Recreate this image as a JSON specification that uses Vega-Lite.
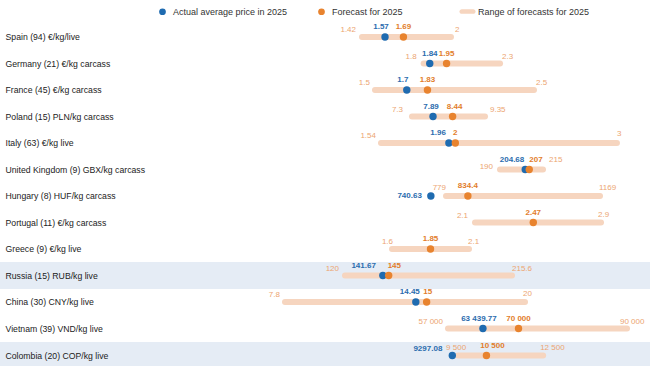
{
"$schema": "https://vega.github.io/schema/vega-lite/v6.json",
"autosize": "pad",
"padding": {"left": 0, "top": 7, "right": 0, "bottom": 0},
"background": "white",
"bounds": "flush",
"spacing": 0,
"datasets": {"prices": [
{"id":"ES","country":"Spain (94)  €/kg/live","actual":1.57,"actual_label":"1.57","forecast":1.69,"forecast_label":"1.69","low":1.42,"low_label":"1.42","high":2,"high_label":"2"},
{"id":"DE","country":"Germany (21) €/kg carcass","actual":1.84,"actual_label":"1.84","forecast":1.95,"forecast_label":"1.95","low":1.8,"low_label":"1.8","high":2.3,"high_label":"2.3"},
{"id":"FR","country":"France (45) €/kg carcass","actual":1.7,"actual_label":"1.7","forecast":1.83,"forecast_label":"1.83","low":1.5,"low_label":"1.5","high":2.5,"high_label":"2.5"},
{"id":"PL","country":"Poland (15) PLN/kg carcass","actual":7.89,"actual_label":"7.89","forecast":8.44,"forecast_label":"8.44","low":7.3,"low_label":"7.3","high":9.35,"high_label":"9.35"},
{"id":"IT","country":"Italy (63) €/kg live","actual":1.96,"actual_label":"1.96","forecast":2,"forecast_label":"2","low":1.54,"low_label":"1.54","high":3,"high_label":"3"},
{"id":"UK","country":"United Kingdom (9) GBX/kg carcass","actual":204.68,"actual_label":"204.68","forecast":207,"forecast_label":"207","low":190,"low_label":"190","high":215,"high_label":"215"},
{"id":"HU","country":"Hungary (8) HUF/kg carcass","actual":740.63,"actual_label":"740.63","forecast":834.4,"forecast_label":"834.4","low":779,"low_label":"779","high":1169,"high_label":"1169"},
{"id":"PT","country":"Portugal (11) €/kg carcass","actual":null,"actual_label":null,"forecast":2.47,"forecast_label":"2.47","low":2.1,"low_label":"2.1","high":2.9,"high_label":"2.9"},
{"id":"GR","country":"Greece (9) €/kg live","actual":null,"actual_label":null,"forecast":1.85,"forecast_label":"1.85","low":1.6,"low_label":"1.6","high":2.1,"high_label":"2.1"},
{"id":"RU","country":"Russia (15) RUB/kg live","actual":141.67,"actual_label":"141.67","forecast":145,"forecast_label":"145","low":120,"low_label":"120","high":215.6,"high_label":"215.6"},
{"id":"CN","country":"China (30) CNY/kg live","actual":14.45,"actual_label":"14.45","forecast":15,"forecast_label":"15","low":7.8,"low_label":"7.8","high":20,"high_label":"20"},
{"id":"VN","country":"Vietnam (39) VND/kg live","actual":63439.77,"actual_label":"63 439.77","forecast":70000,"forecast_label":"70 000","low":57000,"low_label":"57 000","high":90000,"high_label":"90 000"},
{"id":"CO","country":"Colombia (20) COP/kg live","actual":9297.08,"actual_label":"9297.08","forecast":10500,"forecast_label":"10 500","low":9500,"low_label":"9 500","high":12500,"high_label":"12 500"}
]},
"data": {"name": "prices"},
"vconcat": [
{"height":26,"width":650,"transform":[{"filter":"datum.id==='ES'"}],"encoding":{"y":{"field":"country","type":"nominal","title":null}},"layer":[
{"mark":{"type":"rule","strokeWidth":6,"strokeCap":"round"},"encoding":{"x":{"field":"low","type":"quantitative","scale":{"domain":[-0.9399,3.2974],"nice":false,"zero":false},"axis":null},"x2":{"field":"high"},"stroke":{"datum":"Range of forecasts for 2025","scale":{"domain":["Range of forecasts for 2025"],"range":["#f6d5bf"]},"legend":{"title":null,"orient":"none","legendX":463,"legendY":-17,"symbolType":"M-1.7,-0.7L1.7,-0.7A0.7,0.7 0 0 1 1.7,0.7L-1.7,0.7A0.7,0.7 0 0 1 -1.7,-0.7Z","encode":{"symbols":{"update":{"fill":{"value":"#f6d5bf"},"strokeWidth":{"value":0},"opacity":{"value":1}}}}}}}},
{"mark":{"type":"text","align":"right","dx":-6,"dy":-7,"color":"#eca571"},"encoding":{"x":{"field":"low","type":"quantitative","scale":{"domain":[-0.9399,3.2974],"nice":false,"zero":false},"axis":null},"text":{"field":"low_label"}}},
{"mark":{"type":"text","align":"left","dx":4,"dy":-7,"color":"#eca571"},"encoding":{"x":{"field":"high","type":"quantitative","scale":{"domain":[-0.9399,3.2974],"nice":false,"zero":false},"axis":null},"text":{"field":"high_label"}}},
{"mark":{"type":"point","filled":true,"size":55,"opacity":1},"encoding":{"x":{"field":"actual","type":"quantitative","scale":{"domain":[-0.9399,3.2974],"nice":false,"zero":false},"axis":null},"color":{"datum":"Actual average price in 2025","scale":{"domain":["Actual average price in 2025","Forecast for 2025"],"range":["#1f6bb0","#e8832e"]},"legend":{"title":null,"orient":"none","legendX":158,"legendY":-17,"symbolType":"circle","encode":{"symbols":{"update":{"strokeWidth":{"value":0},"opacity":{"value":1}}}}}}}},
{"mark":{"type":"point","filled":true,"size":55,"opacity":1},"encoding":{"x":{"field":"forecast","type":"quantitative","scale":{"domain":[-0.9399,3.2974],"nice":false,"zero":false},"axis":null},"color":{"datum":"Forecast for 2025"}}},
{"mark":{"type":"text","fontWeight":"bold","dy":-10,"dx":-4,"color":"#2b6cae"},"encoding":{"x":{"field":"actual","type":"quantitative","scale":{"domain":[-0.9399,3.2974],"nice":false,"zero":false},"axis":null},"text":{"field":"actual_label"}}},
{"mark":{"type":"text","fontWeight":"bold","dy":-10,"color":"#e27d2b"},"encoding":{"x":{"field":"forecast","type":"quantitative","scale":{"domain":[-0.9399,3.2974],"nice":false,"zero":false},"axis":null},"text":{"field":"forecast_label"}}}
]},
{"height":27,"width":650,"transform":[{"filter":"datum.id==='DE'"}],"encoding":{"y":{"field":"country","type":"nominal","title":null}},"layer":[
{"mark":{"type":"rule","strokeWidth":6,"strokeCap":"round"},"encoding":{"x":{"field":"low","type":"quantitative","scale":{"domain":[-0.9725,3.2814],"nice":false,"zero":false},"axis":null},"x2":{"field":"high"},"stroke":{"datum":"Range of forecasts for 2025"}}},
{"mark":{"type":"text","align":"right","dx":-7,"dy":-7,"color":"#eca571"},"encoding":{"x":{"field":"low","type":"quantitative","scale":{"domain":[-0.9725,3.2814],"nice":false,"zero":false},"axis":null},"text":{"field":"low_label"}}},
{"mark":{"type":"text","align":"left","dx":2,"dy":-7,"color":"#eca571"},"encoding":{"x":{"field":"high","type":"quantitative","scale":{"domain":[-0.9725,3.2814],"nice":false,"zero":false},"axis":null},"text":{"field":"high_label"}}},
{"mark":{"type":"point","filled":true,"size":55,"opacity":1},"encoding":{"x":{"field":"actual","type":"quantitative","scale":{"domain":[-0.9725,3.2814],"nice":false,"zero":false},"axis":null},"color":{"datum":"Actual average price in 2025"}}},
{"mark":{"type":"point","filled":true,"size":55,"opacity":1},"encoding":{"x":{"field":"forecast","type":"quantitative","scale":{"domain":[-0.9725,3.2814],"nice":false,"zero":false},"axis":null},"color":{"datum":"Forecast for 2025"}}},
{"mark":{"type":"text","fontWeight":"bold","dy":-10,"color":"#2b6cae"},"encoding":{"x":{"field":"actual","type":"quantitative","scale":{"domain":[-0.9725,3.2814],"nice":false,"zero":false},"axis":null},"text":{"field":"actual_label"}}},
{"mark":{"type":"text","fontWeight":"bold","dy":-10,"color":"#e27d2b"},"encoding":{"x":{"field":"forecast","type":"quantitative","scale":{"domain":[-0.9725,3.2814],"nice":false,"zero":false},"axis":null},"text":{"field":"forecast_label"}}}
]},
{"height":26,"width":650,"transform":[{"filter":"datum.id==='FR'"}],"encoding":{"y":{"field":"country","type":"nominal","title":null}},"layer":[
{"mark":{"type":"rule","strokeWidth":6,"strokeCap":"round"},"encoding":{"x":{"field":"low","type":"quantitative","scale":{"domain":[-0.8585,3.2296],"nice":false,"zero":false},"axis":null},"x2":{"field":"high"},"stroke":{"datum":"Range of forecasts for 2025"}}},
{"mark":{"type":"text","align":"right","dx":-5,"dy":-7,"color":"#eca571"},"encoding":{"x":{"field":"low","type":"quantitative","scale":{"domain":[-0.8585,3.2296],"nice":false,"zero":false},"axis":null},"text":{"field":"low_label"}}},
{"mark":{"type":"text","align":"left","dx":2,"dy":-7,"color":"#eca571"},"encoding":{"x":{"field":"high","type":"quantitative","scale":{"domain":[-0.8585,3.2296],"nice":false,"zero":false},"axis":null},"text":{"field":"high_label"}}},
{"mark":{"type":"point","filled":true,"size":55,"opacity":1},"encoding":{"x":{"field":"actual","type":"quantitative","scale":{"domain":[-0.8585,3.2296],"nice":false,"zero":false},"axis":null},"color":{"datum":"Actual average price in 2025"}}},
{"mark":{"type":"point","filled":true,"size":55,"opacity":1},"encoding":{"x":{"field":"forecast","type":"quantitative","scale":{"domain":[-0.8585,3.2296],"nice":false,"zero":false},"axis":null},"color":{"datum":"Forecast for 2025"}}},
{"mark":{"type":"text","fontWeight":"bold","dy":-10,"dx":-4,"color":"#2b6cae"},"encoding":{"x":{"field":"actual","type":"quantitative","scale":{"domain":[-0.8585,3.2296],"nice":false,"zero":false},"axis":null},"text":{"field":"actual_label"}}},
{"mark":{"type":"text","fontWeight":"bold","dy":-10,"color":"#e27d2b"},"encoding":{"x":{"field":"forecast","type":"quantitative","scale":{"domain":[-0.8585,3.2296],"nice":false,"zero":false},"axis":null},"text":{"field":"forecast_label"}}}
]},
{"height":27,"width":650,"transform":[{"filter":"datum.id==='PL'"}],"encoding":{"y":{"field":"country","type":"nominal","title":null}},"layer":[
{"mark":{"type":"rule","strokeWidth":6,"strokeCap":"round"},"encoding":{"x":{"field":"low","type":"quantitative","scale":{"domain":[-4.2698,13.9835],"nice":false,"zero":false},"axis":null},"x2":{"field":"high"},"stroke":{"datum":"Range of forecasts for 2025"}}},
{"mark":{"type":"text","align":"right","dx":-9,"dy":-7,"color":"#eca571"},"encoding":{"x":{"field":"low","type":"quantitative","scale":{"domain":[-4.2698,13.9835],"nice":false,"zero":false},"axis":null},"text":{"field":"low_label"}}},
{"mark":{"type":"text","align":"left","dx":5,"dy":-7,"color":"#eca571"},"encoding":{"x":{"field":"high","type":"quantitative","scale":{"domain":[-4.2698,13.9835],"nice":false,"zero":false},"axis":null},"text":{"field":"high_label"}}},
{"mark":{"type":"point","filled":true,"size":55,"opacity":1},"encoding":{"x":{"field":"actual","type":"quantitative","scale":{"domain":[-4.2698,13.9835],"nice":false,"zero":false},"axis":null},"color":{"datum":"Actual average price in 2025"}}},
{"mark":{"type":"point","filled":true,"size":55,"opacity":1},"encoding":{"x":{"field":"forecast","type":"quantitative","scale":{"domain":[-4.2698,13.9835],"nice":false,"zero":false},"axis":null},"color":{"datum":"Forecast for 2025"}}},
{"mark":{"type":"text","fontWeight":"bold","dy":-10,"dx":-2,"color":"#2b6cae"},"encoding":{"x":{"field":"actual","type":"quantitative","scale":{"domain":[-4.2698,13.9835],"nice":false,"zero":false},"axis":null},"text":{"field":"actual_label"}}},
{"mark":{"type":"text","fontWeight":"bold","dy":-10,"dx":2,"color":"#e27d2b"},"encoding":{"x":{"field":"forecast","type":"quantitative","scale":{"domain":[-4.2698,13.9835],"nice":false,"zero":false},"axis":null},"text":{"field":"forecast_label"}}}
]},
{"height":26,"width":650,"transform":[{"filter":"datum.id==='IT'"}],"encoding":{"y":{"field":"country","type":"nominal","title":null}},"layer":[
{"mark":{"type":"rule","strokeWidth":6,"strokeCap":"round"},"encoding":{"x":{"field":"low","type":"quantitative","scale":{"domain":[-0.8177,3.2046],"nice":false,"zero":false},"axis":null},"x2":{"field":"high"},"stroke":{"datum":"Range of forecasts for 2025"}}},
{"mark":{"type":"text","align":"right","dx":-5,"dy":-7,"color":"#eca571"},"encoding":{"x":{"field":"low","type":"quantitative","scale":{"domain":[-0.8177,3.2046],"nice":false,"zero":false},"axis":null},"text":{"field":"low_label"}}},
{"mark":{"type":"text","align":"left","dx":0,"dy":-9,"color":"#eca571"},"encoding":{"x":{"field":"high","type":"quantitative","scale":{"domain":[-0.8177,3.2046],"nice":false,"zero":false},"axis":null},"text":{"field":"high_label"}}},
{"mark":{"type":"point","filled":true,"size":55,"opacity":1},"encoding":{"x":{"field":"actual","type":"quantitative","scale":{"domain":[-0.8177,3.2046],"nice":false,"zero":false},"axis":null},"color":{"datum":"Actual average price in 2025"}}},
{"mark":{"type":"point","filled":true,"size":55,"opacity":1},"encoding":{"x":{"field":"forecast","type":"quantitative","scale":{"domain":[-0.8177,3.2046],"nice":false,"zero":false},"axis":null},"color":{"datum":"Forecast for 2025"}}},
{"mark":{"type":"text","fontWeight":"bold","dy":-10,"dx":-3,"align":"right","color":"#2b6cae"},"encoding":{"x":{"field":"actual","type":"quantitative","scale":{"domain":[-0.8177,3.2046],"nice":false,"zero":false},"axis":null},"text":{"field":"actual_label"}}},
{"mark":{"type":"text","fontWeight":"bold","dy":-10,"color":"#e27d2b"},"encoding":{"x":{"field":"forecast","type":"quantitative","scale":{"domain":[-0.8177,3.2046],"nice":false,"zero":false},"axis":null},"text":{"field":"forecast_label"}}}
]},
{"height":27,"width":650,"transform":[{"filter":"datum.id==='UK'"}],"encoding":{"y":{"field":"country","type":"nominal","title":null}},"layer":[
{"mark":{"type":"rule","strokeWidth":6,"strokeCap":"round"},"encoding":{"x":{"field":"low","type":"quantitative","scale":{"domain":[-100.70,277.21],"nice":false,"zero":false},"axis":null},"x2":{"field":"high"},"stroke":{"datum":"Range of forecasts for 2025"}}},
{"mark":{"type":"text","align":"right","dx":-7,"dy":-3,"color":"#eca571"},"encoding":{"x":{"field":"low","type":"quantitative","scale":{"domain":[-100.70,277.21],"nice":false,"zero":false},"axis":null},"text":{"field":"low_label"}}},
{"mark":{"type":"text","align":"left","dx":6,"dy":-10,"color":"#eca571"},"encoding":{"x":{"field":"high","type":"quantitative","scale":{"domain":[-100.70,277.21],"nice":false,"zero":false},"axis":null},"text":{"field":"high_label"}}},
{"mark":{"type":"point","filled":true,"size":55,"opacity":1},"encoding":{"x":{"field":"actual","type":"quantitative","scale":{"domain":[-100.70,277.21],"nice":false,"zero":false},"axis":null},"color":{"datum":"Actual average price in 2025"}}},
{"mark":{"type":"point","filled":true,"size":55,"opacity":1},"encoding":{"x":{"field":"forecast","type":"quantitative","scale":{"domain":[-100.70,277.21],"nice":false,"zero":false},"axis":null},"color":{"datum":"Forecast for 2025"}}},
{"mark":{"type":"text","fontWeight":"bold","dy":-10,"dx":-1,"align":"right","color":"#2b6cae"},"encoding":{"x":{"field":"actual","type":"quantitative","scale":{"domain":[-100.70,277.21],"nice":false,"zero":false},"axis":null},"text":{"field":"actual_label"}}},
{"mark":{"type":"text","fontWeight":"bold","dy":-10,"align":"left","color":"#e27d2b"},"encoding":{"x":{"field":"forecast","type":"quantitative","scale":{"domain":[-100.70,277.21],"nice":false,"zero":false},"axis":null},"text":{"field":"forecast_label"}}}
]},
{"height":26,"width":650,"transform":[{"filter":"datum.id==='HU'"}],"encoding":{"y":{"field":"country","type":"nominal","title":null}},"layer":[
{"mark":{"type":"rule","strokeWidth":6,"strokeCap":"round"},"encoding":{"x":{"field":"low","type":"quantitative","scale":{"domain":[-350.5,1295.6],"nice":false,"zero":false},"axis":null},"x2":{"field":"high"},"stroke":{"datum":"Range of forecasts for 2025"}}},
{"mark":{"type":"text","align":"right","dx":0,"dy":-8,"color":"#eca571"},"encoding":{"x":{"field":"low","type":"quantitative","scale":{"domain":[-350.5,1295.6],"nice":false,"zero":false},"axis":null},"text":{"field":"low_label"}}},
{"mark":{"type":"text","align":"left","dx":-1,"dy":-8,"color":"#eca571"},"encoding":{"x":{"field":"high","type":"quantitative","scale":{"domain":[-350.5,1295.6],"nice":false,"zero":false},"axis":null},"text":{"field":"high_label"}}},
{"mark":{"type":"point","filled":true,"size":55,"opacity":1},"encoding":{"x":{"field":"actual","type":"quantitative","scale":{"domain":[-350.5,1295.6],"nice":false,"zero":false},"axis":null},"color":{"datum":"Actual average price in 2025"}}},
{"mark":{"type":"point","filled":true,"size":55,"opacity":1},"encoding":{"x":{"field":"forecast","type":"quantitative","scale":{"domain":[-350.5,1295.6],"nice":false,"zero":false},"axis":null},"color":{"datum":"Forecast for 2025"}}},
{"mark":{"type":"text","fontWeight":"bold","dy":0,"dx":-9,"align":"right","color":"#2b6cae"},"encoding":{"x":{"field":"actual","type":"quantitative","scale":{"domain":[-350.5,1295.6],"nice":false,"zero":false},"axis":null},"text":{"field":"actual_label"}}},
{"mark":{"type":"text","fontWeight":"bold","dy":-10,"color":"#e27d2b"},"encoding":{"x":{"field":"forecast","type":"quantitative","scale":{"domain":[-350.5,1295.6],"nice":false,"zero":false},"axis":null},"text":{"field":"forecast_label"}}}
]},
{"height":27,"width":650,"transform":[{"filter":"datum.id==='PT'"}],"encoding":{"y":{"field":"country","type":"nominal","title":null}},"layer":[
{"mark":{"type":"rule","strokeWidth":6,"strokeCap":"round"},"encoding":{"x":{"field":"low","type":"quantitative","scale":{"domain":[-0.9159,3.2111],"nice":false,"zero":false},"axis":null},"x2":{"field":"high"},"stroke":{"datum":"Range of forecasts for 2025"}}},
{"mark":{"type":"text","align":"right","dx":-7,"dy":-7,"color":"#eca571"},"encoding":{"x":{"field":"low","type":"quantitative","scale":{"domain":[-0.9159,3.2111],"nice":false,"zero":false},"axis":null},"text":{"field":"low_label"}}},
{"mark":{"type":"text","align":"left","dx":-3,"dy":-8,"color":"#eca571"},"encoding":{"x":{"field":"high","type":"quantitative","scale":{"domain":[-0.9159,3.2111],"nice":false,"zero":false},"axis":null},"text":{"field":"high_label"}}},
{"mark":{"type":"point","filled":true,"size":55,"opacity":1},"encoding":{"x":{"field":"forecast","type":"quantitative","scale":{"domain":[-0.9159,3.2111],"nice":false,"zero":false},"axis":null},"color":{"datum":"Forecast for 2025"}}},
{"mark":{"type":"text","fontWeight":"bold","dy":-10,"color":"#e27d2b"},"encoding":{"x":{"field":"forecast","type":"quantitative","scale":{"domain":[-0.9159,3.2111],"nice":false,"zero":false},"axis":null},"text":{"field":"forecast_label"}}}
]},
{"height":26,"width":650,"transform":[{"filter":"datum.id==='GR'"}],"encoding":{"y":{"field":"country","type":"nominal","title":null}},"layer":[
{"mark":{"type":"rule","strokeWidth":6,"strokeCap":"round"},"encoding":{"x":{"field":"low","type":"quantitative","scale":{"domain":[-0.9455,3.2753],"nice":false,"zero":false},"axis":null},"x2":{"field":"high"},"stroke":{"datum":"Range of forecasts for 2025"}}},
{"mark":{"type":"text","align":"right","dx":1,"dy":-7,"color":"#eca571"},"encoding":{"x":{"field":"low","type":"quantitative","scale":{"domain":[-0.9455,3.2753],"nice":false,"zero":false},"axis":null},"text":{"field":"low_label"}}},
{"mark":{"type":"text","align":"left","dx":-1,"dy":-7,"color":"#eca571"},"encoding":{"x":{"field":"high","type":"quantitative","scale":{"domain":[-0.9455,3.2753],"nice":false,"zero":false},"axis":null},"text":{"field":"high_label"}}},
{"mark":{"type":"point","filled":true,"size":55,"opacity":1},"encoding":{"x":{"field":"forecast","type":"quantitative","scale":{"domain":[-0.9455,3.2753],"nice":false,"zero":false},"axis":null},"color":{"datum":"Forecast for 2025"}}},
{"mark":{"type":"text","fontWeight":"bold","dy":-10,"color":"#e27d2b"},"encoding":{"x":{"field":"forecast","type":"quantitative","scale":{"domain":[-0.9455,3.2753],"nice":false,"zero":false},"axis":null},"text":{"field":"forecast_label"}}}
]},
{"height":27,"width":650,"view":{"fill":"#e5ecf5"},"transform":[{"filter":"datum.id==='RU'"}],"encoding":{"y":{"field":"country","type":"nominal","title":null}},"layer":[
{"mark":{"type":"rule","strokeWidth":6,"strokeCap":"round"},"encoding":{"x":{"field":"low","type":"quantitative","scale":{"domain":[-77.49,294.60],"nice":false,"zero":false},"axis":null},"x2":{"field":"high"},"stroke":{"datum":"Range of forecasts for 2025"}}},
{"mark":{"type":"text","align":"right","dx":-6,"dy":-7,"color":"#eca571"},"encoding":{"x":{"field":"low","type":"quantitative","scale":{"domain":[-77.49,294.60],"nice":false,"zero":false},"axis":null},"text":{"field":"low_label"}}},
{"mark":{"type":"text","align":"left","dx":0,"dy":-7,"color":"#eca571"},"encoding":{"x":{"field":"high","type":"quantitative","scale":{"domain":[-77.49,294.60],"nice":false,"zero":false},"axis":null},"text":{"field":"high_label"}}},
{"mark":{"type":"point","filled":true,"size":55,"opacity":1},"encoding":{"x":{"field":"actual","type":"quantitative","scale":{"domain":[-77.49,294.60],"nice":false,"zero":false},"axis":null},"color":{"datum":"Actual average price in 2025"}}},
{"mark":{"type":"point","filled":true,"size":55,"opacity":1},"encoding":{"x":{"field":"forecast","type":"quantitative","scale":{"domain":[-77.49,294.60],"nice":false,"zero":false},"axis":null},"color":{"datum":"Forecast for 2025"}}},
{"mark":{"type":"text","fontWeight":"bold","dy":-10,"dx":-7,"align":"right","color":"#2b6cae"},"encoding":{"x":{"field":"actual","type":"quantitative","scale":{"domain":[-77.49,294.60],"nice":false,"zero":false},"axis":null},"text":{"field":"actual_label"}}},
{"mark":{"type":"text","fontWeight":"bold","dy":-10,"dx":-1,"align":"left","color":"#e27d2b"},"encoding":{"x":{"field":"forecast","type":"quantitative","scale":{"domain":[-77.49,294.60],"nice":false,"zero":false},"axis":null},"text":{"field":"forecast_label"}}}
]},
{"height":26,"width":650,"transform":[{"filter":"datum.id==='CN'"}],"encoding":{"y":{"field":"country","type":"nominal","title":null}},"layer":[
{"mark":{"type":"rule","strokeWidth":6,"strokeCap":"round"},"encoding":{"x":{"field":"low","type":"quantitative","scale":{"domain":[-6.6876,26.3543],"nice":false,"zero":false},"axis":null},"x2":{"field":"high"},"stroke":{"datum":"Range of forecasts for 2025"}}},
{"mark":{"type":"text","align":"right","dx":-5,"dy":-7,"color":"#eca571"},"encoding":{"x":{"field":"low","type":"quantitative","scale":{"domain":[-6.6876,26.3543],"nice":false,"zero":false},"axis":null},"text":{"field":"low_label"}}},
{"mark":{"type":"text","align":"left","dx":-2,"dy":-8,"color":"#eca571"},"encoding":{"x":{"field":"high","type":"quantitative","scale":{"domain":[-6.6876,26.3543],"nice":false,"zero":false},"axis":null},"text":{"field":"high_label"}}},
{"mark":{"type":"point","filled":true,"size":55,"opacity":1},"encoding":{"x":{"field":"actual","type":"quantitative","scale":{"domain":[-6.6876,26.3543],"nice":false,"zero":false},"axis":null},"color":{"datum":"Actual average price in 2025"}}},
{"mark":{"type":"point","filled":true,"size":55,"opacity":1},"encoding":{"x":{"field":"forecast","type":"quantitative","scale":{"domain":[-6.6876,26.3543],"nice":false,"zero":false},"axis":null},"color":{"datum":"Forecast for 2025"}}},
{"mark":{"type":"text","fontWeight":"bold","dy":-10,"dx":-6,"color":"#2b6cae"},"encoding":{"x":{"field":"actual","type":"quantitative","scale":{"domain":[-6.6876,26.3543],"nice":false,"zero":false},"axis":null},"text":{"field":"actual_label"}}},
{"mark":{"type":"text","fontWeight":"bold","dy":-10,"dx":1,"color":"#e27d2b"},"encoding":{"x":{"field":"forecast","type":"quantitative","scale":{"domain":[-6.6876,26.3543],"nice":false,"zero":false},"axis":null},"text":{"field":"forecast_label"}}}
]},
{"height":27,"width":650,"transform":[{"filter":"datum.id==='VN'"}],"encoding":{"y":{"field":"country","type":"nominal","title":null}},"layer":[
{"mark":{"type":"rule","strokeWidth":6,"strokeCap":"round"},"encoding":{"x":{"field":"low","type":"quantitative","scale":{"domain":[-25592,94241],"nice":false,"zero":false},"axis":null},"x2":{"field":"high"},"stroke":{"datum":"Range of forecasts for 2025"}}},
{"mark":{"type":"text","align":"right","dx":-5,"dy":-7,"color":"#eca571"},"encoding":{"x":{"field":"low","type":"quantitative","scale":{"domain":[-25592,94241],"nice":false,"zero":false},"axis":null},"text":{"field":"low_label"}}},
{"mark":{"type":"text","align":"left","dx":-7,"dy":-7,"color":"#eca571"},"encoding":{"x":{"field":"high","type":"quantitative","scale":{"domain":[-25592,94241],"nice":false,"zero":false},"axis":null},"text":{"field":"high_label"}}},
{"mark":{"type":"point","filled":true,"size":55,"opacity":1},"encoding":{"x":{"field":"actual","type":"quantitative","scale":{"domain":[-25592,94241],"nice":false,"zero":false},"axis":null},"color":{"datum":"Actual average price in 2025"}}},
{"mark":{"type":"point","filled":true,"size":55,"opacity":1},"encoding":{"x":{"field":"forecast","type":"quantitative","scale":{"domain":[-25592,94241],"nice":false,"zero":false},"axis":null},"color":{"datum":"Forecast for 2025"}}},
{"mark":{"type":"text","fontWeight":"bold","dy":-10,"dx":-4,"color":"#2b6cae"},"encoding":{"x":{"field":"actual","type":"quantitative","scale":{"domain":[-25592,94241],"nice":false,"zero":false},"axis":null},"text":{"field":"actual_label"}}},
{"mark":{"type":"text","fontWeight":"bold","dy":-10,"color":"#e27d2b"},"encoding":{"x":{"field":"forecast","type":"quantitative","scale":{"domain":[-25592,94241],"nice":false,"zero":false},"axis":null},"text":{"field":"forecast_label"}}}
]},
{"height":27,"width":650,"view":{"fill":"#e5ecf5"},"transform":[{"filter":"datum.id==='CO'"}],"encoding":{"y":{"field":"country","type":"nominal","title":null}},"layer":[
{"mark":{"type":"rule","strokeWidth":6,"strokeCap":"round"},"encoding":{"x":{"field":"low","type":"quantitative","scale":{"domain":[-6655.9,16268.6],"nice":false,"zero":false},"axis":null},"x2":{"field":"high"},"stroke":{"datum":"Range of forecasts for 2025"}}},
{"mark":{"type":"text","align":"center","dx":-2,"dy":-8,"color":"#eca571"},"encoding":{"x":{"field":"low","type":"quantitative","scale":{"domain":[-6655.9,16268.6],"nice":false,"zero":false},"axis":null},"text":{"field":"low_label"}}},
{"mark":{"type":"text","align":"left","dx":-3,"dy":-8,"color":"#eca571"},"encoding":{"x":{"field":"high","type":"quantitative","scale":{"domain":[-6655.9,16268.6],"nice":false,"zero":false},"axis":null},"text":{"field":"high_label"}}},
{"mark":{"type":"point","filled":true,"size":55,"opacity":1},"encoding":{"x":{"field":"actual","type":"quantitative","scale":{"domain":[-6655.9,16268.6],"nice":false,"zero":false},"axis":null},"color":{"datum":"Actual average price in 2025"}}},
{"mark":{"type":"point","filled":true,"size":55,"opacity":1},"encoding":{"x":{"field":"forecast","type":"quantitative","scale":{"domain":[-6655.9,16268.6],"nice":false,"zero":false},"axis":null},"color":{"datum":"Forecast for 2025"}}},
{"mark":{"type":"text","fontWeight":"bold","dy":-7,"dx":-10,"align":"right","color":"#2b6cae"},"encoding":{"x":{"field":"actual","type":"quantitative","scale":{"domain":[-6655.9,16268.6],"nice":false,"zero":false},"axis":null},"text":{"field":"actual_label"}}},
{"mark":{"type":"text","fontWeight":"bold","dy":-10,"dx":6,"color":"#e27d2b"},"encoding":{"x":{"field":"forecast","type":"quantitative","scale":{"domain":[-6655.9,16268.6],"nice":false,"zero":false},"axis":null},"text":{"field":"forecast_label"}}}
]}
],
"config": {
"font": "Liberation Sans",
"view": {"stroke": null},
"text": {"font": "Liberation Sans", "fontSize": 8, "baseline": "middle"},
"axisY": {"domain": false, "ticks": false, "tickSize": 0, "grid": false, "labelAlign": "left", "labelPadding": -5, "labelFontSize": 8.7, "labelColor": "#222222", "labelFont": "Liberation Sans", "minExtent": 0, "maxExtent": 0, "labelLimit": 300, "labelBaseline": "middle"},
"legend": {"direction": "horizontal", "gridAlign": "all", "columnPadding": 29, "labelFontSize": 9, "labelFont": "Liberation Sans", "labelColor": "#333333", "symbolSize": 45, "labelOffset": 6, "padding": 0}
}
}
